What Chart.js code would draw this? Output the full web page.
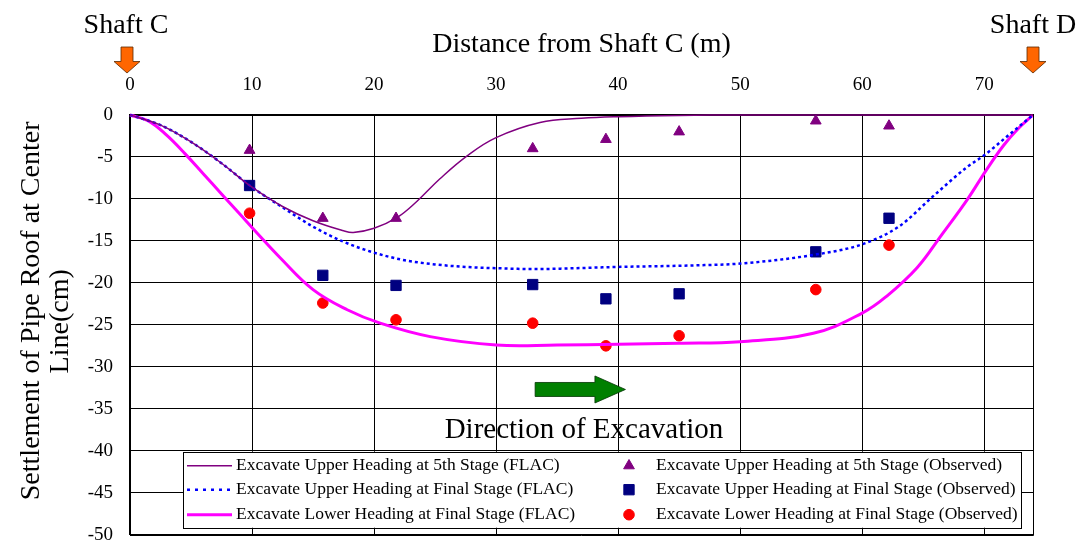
<!DOCTYPE html>
<html>
<head>
<meta charset="utf-8">
<script src="https://cdn.jsdelivr.net/npm/chart.js@4.4.1/dist/chart.umd.min.js"></script>
<style>
html,body{margin:0;padding:0;background:#fff;}
#wrap{width:1081px;height:543px;position:relative;}
</style>
</head>
<body>
<div id="wrap"><canvas id="c"></canvas></div>
<script>
// ---- tick labels ----
const xTicks = [0, 10, 20, 30, 40, 50, 60, 70];
const yTicks = [0, -5, -10, -15, -20, -25, -30, -35, -40, -45, -50];

// ---- observed values ----
const obsX = [9.8, 15.8, 21.8, 33.0, 39.0, 45.0, 56.2, 62.2];
const obsUpper5 = [-4.2, -12.3, -12.3, -4.0, -2.9, -2.0, -0.7, -1.3];
const obsUpperFinal = [-8.4, -19.1, -20.3, -20.2, -21.9, -21.3, -16.3, -12.3];
const obsLowerFinal = [-11.7, -22.4, -24.4, -24.8, -27.5, -26.3, -20.8, -15.5];

// ---- FLAC curves ----
const flacUpper5X = [0, 2.5, 5, 7.5, 10, 12.5, 15, 17.5, 18.3, 20, 21.9, 23.5, 25.4, 27.6, 30, 33.6, 37, 40, 45, 50, 60, 74];
const flacUpper5Y = [0, -1.2, -3.2, -5.75, -8.6, -10.9, -12.6, -13.8, -14.0, -13.5, -12.2, -10.3, -7.6, -4.9, -2.7, -0.9, -0.4, -0.2, -0.05, 0, 0, 0];

const flacUpperFinalX = [0, 2.5, 5, 7.5, 10, 12.5, 15, 17.5, 20, 22.5, 25, 27.5, 30, 33, 40, 46.7, 50, 56.3, 60, 63, 65.8, 68.6, 70, 72, 74];
const flacUpperFinalY = [0, -1.2, -3.2, -5.75, -8.6, -11.0, -13.3, -15.1, -16.4, -17.3, -17.8, -18.1, -18.25, -18.35, -18.1, -17.9, -17.7, -16.6, -15.4, -13.3, -9.7, -6.2, -4.8, -2.4, 0];

const flacLowerFinalX = [0, 1.5, 3, 4.5, 6, 7.5, 9, 10.5, 12.3, 15, 17.8, 20.5, 24.6, 30, 35, 40, 45, 50, 56, 60, 62, 64.5, 66.5, 68.6, 70.2, 71.6, 72.8, 74];
const flacLowerFinalY = [0, -0.7, -2.4, -4.6, -7.0, -9.4, -11.8, -14.2, -17.0, -20.8, -23.2, -24.8, -26.4, -27.4, -27.4, -27.3, -27.2, -27.0, -26.0, -23.6, -21.6, -18.2, -14.3, -10.1, -6.5, -3.6, -1.6, 0];

// ---- labels ----
const seriesLabels = [
  'Excavate Upper Heading at 5th Stage (FLAC)',
  'Excavate Upper Heading at Final Stage (FLAC)',
  'Excavate Lower Heading at Final Stage (FLAC)',
  'Excavate Upper Heading at 5th Stage (Observed)',
  'Excavate Upper Heading at Final Stage (Observed)',
  'Excavate Lower Heading at Final Stage (Observed)'
];
const xTitle = 'Distance from Shaft C (m)';
const yTitle = ['    Settlement of Pipe Roof at Center', ' Line(cm)'];
const shaftNames = ['Shaft C', 'Shaft D'];
const shaftAt = [0, 74];
const directionText = 'Direction of Excavation';
const directionArrowX = [33.2, 38.1, 40.6]; // tail, head base, tip
const directionArrowY = -32.7;
const directionTextPos = [37.2, -38.5];

const SERIF = "'Liberation Serif', 'Times New Roman', serif";

function xy(xs, ys) { return xs.map((v, i) => ({x: v, y: ys[i]})); }

const datasets = [
  {label: seriesLabels[0], data: xy(flacUpper5X, flacUpper5Y), showLine: true, borderColor: '#800080', backgroundColor: '#800080', borderWidth: 1.5, pointRadius: 0, tension: 0.4, clip: 4},
  {label: seriesLabels[1], data: xy(flacUpperFinalX, flacUpperFinalY), showLine: true, borderColor: '#0000FF', backgroundColor: '#0000FF', borderWidth: 2.5, borderDash: [3, 3], pointRadius: 0, cubicInterpolationMode: 'monotone', clip: 4},
  {label: seriesLabels[2], data: xy(flacLowerFinalX, flacLowerFinalY), showLine: true, borderColor: '#FF00FF', backgroundColor: '#FF00FF', borderWidth: 3, pointRadius: 0, tension: 0.4, clip: 4},
  {label: seriesLabels[3], data: xy(obsX, obsUpper5), showLine: false, pointStyle: 'triangle', pointRadius: 6.2, backgroundColor: '#800080', borderColor: '#800080', borderWidth: 1},
  {label: seriesLabels[4], data: xy(obsX, obsUpperFinal), showLine: false, pointStyle: 'rect', pointRadius: 7.3, backgroundColor: '#000080', borderColor: '#000080', borderWidth: 1},
  {label: seriesLabels[5], data: xy(obsX, obsLowerFinal), showLine: false, pointStyle: 'circle', pointRadius: 5.3, backgroundColor: '#FF0000', borderColor: '#FF0000', borderWidth: 1}
];

const annot = {
  id: 'annot',
  afterDraw(chart) {
    const {ctx, chartArea: a, scales: {x, y}} = chart;
    ctx.save();
    // plot frame (right & bottom)
    ctx.strokeStyle = '#000';
    ctx.lineWidth = 1;
    ctx.beginPath();
    ctx.moveTo(Math.round(a.right) + 0.5, a.top);
    ctx.lineTo(Math.round(a.right) + 0.5, Math.round(a.bottom) + 0.5);
    ctx.lineTo(a.left, Math.round(a.bottom) + 0.5);
    ctx.stroke();

    // shaft labels + orange arrows
    ctx.font = '28px ' + SERIF;
    ctx.textAlign = 'center';
    ctx.textBaseline = 'alphabetic';
    shaftNames.forEach((name, i) => {
      const px = x.getPixelForValue(shaftAt[i]) + (i === 0 ? -4 : 0);
      ctx.fillStyle = '#000';
      ctx.fillText(name, px, 33);
      const cx = px + (i === 0 ? 1 : 0);
      ctx.beginPath();
      ctx.moveTo(cx - 6, 47);
      ctx.lineTo(cx + 6, 47);
      ctx.lineTo(cx + 6, 61.5);
      ctx.lineTo(cx + 13, 61.5);
      ctx.lineTo(cx, 73);
      ctx.lineTo(cx - 13, 61.5);
      ctx.lineTo(cx - 6, 61.5);
      ctx.closePath();
      ctx.fillStyle = '#FF6600';
      ctx.fill();
      ctx.strokeStyle = '#5a2a00';
      ctx.lineWidth = 0.8;
      ctx.stroke();
    });

    // green direction arrow
    const x0 = x.getPixelForValue(directionArrowX[0]);
    const xh = x.getPixelForValue(directionArrowX[1]);
    const x1 = x.getPixelForValue(directionArrowX[2]);
    const yc = y.getPixelForValue(directionArrowY);
    ctx.beginPath();
    ctx.moveTo(x0, yc - 7);
    ctx.lineTo(xh, yc - 7);
    ctx.lineTo(xh, yc - 13.5);
    ctx.lineTo(x1, yc);
    ctx.lineTo(xh, yc + 13.5);
    ctx.lineTo(xh, yc + 7);
    ctx.lineTo(x0, yc + 7);
    ctx.closePath();
    ctx.fillStyle = '#008000';
    ctx.fill();
    ctx.strokeStyle = '#003300';
    ctx.lineWidth = 0.8;
    ctx.stroke();

    ctx.font = '29px ' + SERIF;
    ctx.fillStyle = '#000';
    ctx.textAlign = 'center';
    ctx.textBaseline = 'alphabetic';
    ctx.fillText(directionText, x.getPixelForValue(directionTextPos[0]), y.getPixelForValue(directionTextPos[1]));

    // legend box
    const L = a.left + 53, T = a.bottom - 83, R = a.right - 12, B = a.bottom - 7;
    ctx.fillStyle = '#fff';
    ctx.fillRect(L, T, R - L, B - T);
    ctx.strokeStyle = '#000';
    ctx.lineWidth = 1;
    ctx.strokeRect(Math.round(L) + 0.5, Math.round(T) + 0.5, Math.round(R - L), Math.round(B - T));
    const rows = [T + 14, T + 38, T + 63];
    ctx.font = '17.5px ' + SERIF;
    ctx.textBaseline = 'middle';
    ctx.textAlign = 'left';
    const ds = chart.data.datasets;
    for (let i = 0; i < 3; i++) {
      const d = ds[i];
      const ry = rows[i];
      ctx.save();
      ctx.strokeStyle = d.borderColor;
      ctx.lineWidth = d.borderWidth;
      ctx.setLineDash(d.borderDash ? [3, 5] : []);
      ctx.beginPath();
      ctx.moveTo(L + 4, ry);
      ctx.lineTo(L + 49, ry);
      ctx.stroke();
      ctx.restore();
      ctx.fillStyle = '#000';
      ctx.fillText(d.label, L + 53, ry);
    }
    for (let i = 3; i < 6; i++) {
      const d = ds[i];
      const ry = rows[i - 3];
      ctx.save();
      ctx.fillStyle = d.backgroundColor;
      ctx.strokeStyle = d.borderColor;
      ctx.lineWidth = 1;
      Chart.helpers.drawPoint(ctx, {pointStyle: d.pointStyle, radius: d.pointRadius, rotation: 0, borderWidth: 1}, L + 446, ry);
      ctx.restore();
      ctx.fillStyle = '#000';
      ctx.fillText(d.label, L + 473, ry);
    }
    ctx.restore();
  }
};

new Chart(document.getElementById('c'), {
  type: 'scatter',
  data: {datasets},
  options: {
    responsive: true,
    maintainAspectRatio: false,
    animation: false,
    layout: {padding: {left: 0, top: 0, right: 48, bottom: 8}},
    plugins: {legend: {display: false}, tooltip: {enabled: false}},
    scales: {
      x: {
        type: 'linear',
        position: 'top',
        min: 0,
        max: 74,
        afterBuildTicks: (s) => { s.ticks = xTicks.map(v => ({value: v})); },
        afterFit: (s) => { s.height = 115; s.paddingLeft = 0; s.paddingRight = 0; },
        ticks: {autoSkip: false, maxRotation: 0, padding: 19, color: '#000', font: {family: SERIF, size: 19}},
        grid: {color: '#000', lineWidth: 1, drawTicks: false},
        border: {display: true, color: '#000', width: 2},
        title: {display: true, text: xTitle, color: '#000', font: {family: SERIF, size: 28}, padding: {top: 28, bottom: 0}}
      },
      y: {
        type: 'linear',
        min: -50,
        max: 0,
        afterBuildTicks: (s) => { s.ticks = yTicks.map(v => ({value: v})); },
        afterFit: (s) => { s.width = 130; s.paddingTop = 0; s.paddingBottom = 0; },
        ticks: {autoSkip: false, padding: 17, color: '#000', font: {family: SERIF, size: 19}, callback: (v) => String(v)},
        grid: {color: '#000', lineWidth: 1, drawTicks: false},
        border: {display: true, color: '#000', width: 2},
        title: {display: true, text: yTitle, color: '#000', font: {family: SERIF, size: 28, lineHeight: '29px'}, padding: {top: 17, bottom: 0}}
      }
    }
  },
  plugins: [annot]
});
</script>
</body>
</html>
